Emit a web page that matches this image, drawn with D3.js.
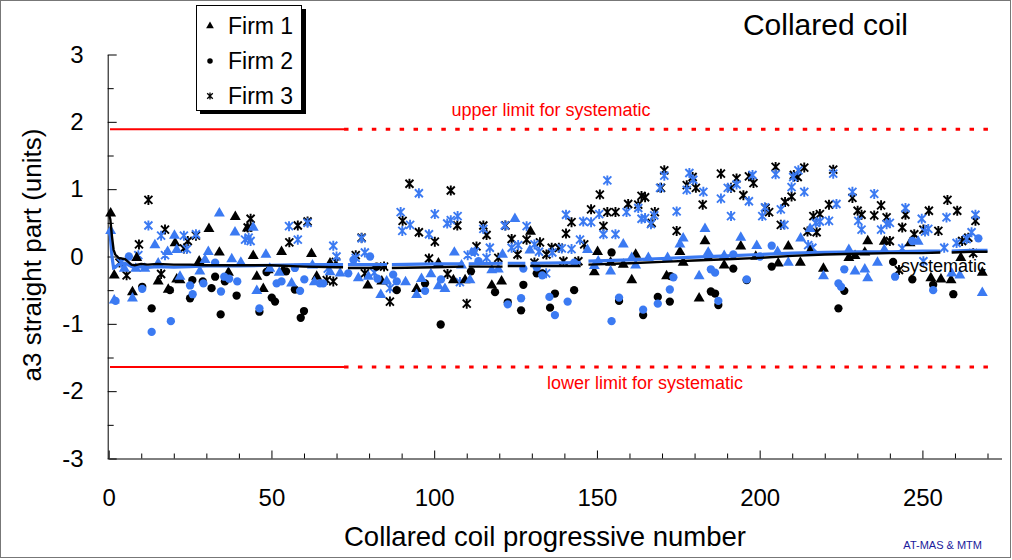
<!DOCTYPE html>
<html><head><meta charset="utf-8">
<script src="https://cdn.jsdelivr.net/npm/d3@7"></script>
<style>
html,body{margin:0;padding:0;background:#fff;}
svg{display:block;font-family:"Liberation Sans",Arial,sans-serif;}
</style></head>
<body><svg id="c" width="1012" height="560"></svg>
<script>
// ---------- data ----------
const xTicksMajor = [0, 50, 100, 150, 200, 250];
const yTicksMajor = [-3, -2, -1, 0, 1, 2, 3];
const legendLabels = ["Firm 1", "Firm 2", "Firm 3"];
const upperLimit = 1.89, lowerLimit = -1.64;
const limitSolidEnd = 72.3, limitStart = 0.4, limitEnd = 270.6;

const firm1Black = [[0.6,0.64],[1.7,-0.28],[7.3,-0.53],[8.6,-0.02],[15.2,-0.37],[18.3,-0.49],[20.4,0.2],[20.9,-0.34],[21.9,-0.35],[27.8,-0.07],[30.8,0.41],[34,0.06],[36.8,-0.24],[38.9,0.59],[42.6,0.42],[44.4,0.01],[45.5,-0.3],[47.5,-0.48],[49,-0.2],[53.1,0.07],[53.6,-0.2],[62.3,0.04],[63.9,-0.3],[68,-0.1],[79.6,-0.43],[83.9,-0.37],[94.6,-0.48],[101.3,-0.1],[105.9,-0.35],[109.5,-0.35],[117.7,-0.43],[120.7,-0.37],[129.6,0.37],[149.2,-0.23],[150.2,0.07],[154.2,-0.09],[158.1,-0.12],[160.7,-0.35],[161.9,0.03],[171.4,-0.29],[175.5,0.07],[176.5,-0.09],[181.4,-0.62],[183.2,0.23],[184.2,-0.02],[189.1,-0.13],[194.2,0.15],[198.8,0],[205.7,-0.1],[208.8,0.15],[212.5,-0.09],[215.5,0.08],[219.6,-0.18],[227.4,-0.02],[229.3,0.01],[232.3,0.06],[233.2,0.23],[238.3,0.22],[246.2,0.2],[252.6,-0.32],[255.7,-0.34],[258.8,-0.35],[261.8,-0.02],[268.4,-0.24]];
const firm1Blue = [[0.6,0.38],[1.7,-0.65],[4.8,-0.18],[7.3,-0.62],[8.3,-0.18],[11.1,-0.18],[14.2,0.17],[15.2,-0.1],[18.1,0.07],[20.2,0.31],[20.9,0.1],[21.9,-0.3],[28,-0.22],[29.6,-0.05],[30.6,0.07],[34,0.64],[37.8,-0.04],[38.8,0.36],[40.6,-0.09],[44.4,0.43],[45.5,-0.51],[48.3,0.03],[49.5,-0.18],[52.4,-0.24],[56.2,-0.4],[62.6,-0.13],[63.2,-0.38],[68,-0.23],[71.1,-0.25],[76.7,-0.32],[79.8,-0.3],[83.6,-0.57],[85.4,-0.37],[91.2,-0.38],[94.6,-0.57],[96.1,-0.33],[99,-0.26],[101.3,-0.44],[103.3,-0.48],[106.2,0.06],[108.4,-0.13],[111,-0.35],[117.7,-0.2],[119.7,-0.19],[121,0.03],[124.8,0.56],[129.4,0.09],[147.1,0.1],[149.2,-0.14],[150.4,-0.07],[154.2,-0.22],[158.1,0.18],[160.7,-0.02],[161.9,-0.13],[165.8,-0.02],[171.7,-0.02],[175.5,0.18],[176.5,0.27],[181.4,-0.29],[183.2,0.41],[184.2,0.06],[189.1,0.01],[194.2,0.28],[199.1,0.16],[205.5,0.07],[208.8,-0.09],[212.6,0.27],[215.5,0.41],[219.6,-0.29],[227.4,0.1],[229.3,-0.22],[232.3,-0.19],[233.2,-0.32],[236.2,-0.09],[238.3,0.1],[248.7,0.22],[259,-0.25],[261.5,-0.28],[268.4,-0.54]];
const firm2Black = [[10.3,-0.45],[13.2,-0.77],[18.8,-0.5],[25,-0.62],[25.7,-0.35],[28.9,-0.37],[31.6,-0.47],[32.7,-0.3],[34.4,-0.86],[35.7,-0.37],[39.3,-0.58],[46.3,-0.82],[48.5,-0.23],[50.1,-0.61],[51.1,-0.67],[54.5,-0.22],[57.2,-0.49],[59,-0.91],[60,-0.81],[82.3,-0.15],[88.5,-0.5],[97.2,-0.4],[102,-1.01],[111.3,-0.22],[118.7,-0.53],[122.6,-0.68],[126.7,-0.8],[127.4,-0.42],[131.5,-0.25],[133.2,-0.25],[135.6,-0.76],[137.1,-0.55],[143,-0.5],[154.5,0.06],[156.8,-0.66],[164.2,-0.87],[168.7,-0.6],[172.4,-0.67],[172.6,-0.29],[185,-0.52],[186.3,-0.55],[187.3,-0.72],[191.9,-0.18],[196,-0.35],[203.7,-0.15],[224.2,-0.77],[226,-0.51],[241,-0.08],[246.9,-0.34],[253.3,-0.42],[259.5,-0.56]];
const firm2Blue = [[2.1,-0.66],[6.2,0],[10.3,-0.48],[13.2,-1.12],[19.1,-0.96],[25,-0.43],[25.8,-0.56],[29.1,-0.4],[32.7,-0.09],[34.5,-0.52],[35.5,-0.3],[37,-0.33],[39.5,-0.37],[46.3,-0.77],[51.6,-0.4],[53.1,-0.37],[57.2,-0.17],[58.8,-0.51],[60.1,-0.34],[64.9,-0.4],[65.9,-0.4],[73.6,-0.25],[75.2,-0.05],[80.3,0],[82.6,-0.33],[87.4,-0.27],[88.5,-0.37],[97.2,-0.51],[102.1,-0.34],[112,0.07],[113.6,-0.07],[122.6,-0.71],[126.7,-0.62],[127.4,-0.18],[131.5,-0.16],[133.2,-0.28],[135.4,-0.6],[137.1,-0.87],[141,-0.67],[143,-0.09],[154.5,-0.96],[156.8,-0.61],[164.2,-0.79],[168.7,-0.7],[172.4,-0.49],[173.5,-0.31],[185,-0.19],[186.3,-0.24],[187.3,-0.66],[191.9,0.03],[196,-0.34],[200.1,0],[203.7,0.16],[224.2,-0.4],[225,-0.45],[226,-0.19],[241.6,-0.3],[246.9,0.23],[253.3,-0.5],[267.2,0.27]];
const firm3Black = [[3.3,-0.09],[5.5,-0.28],[9.3,0.18],[12.2,0.84],[16.1,-0.26],[17.3,0.4],[23.1,0.12],[24.3,0.23],[26.8,0.31],[42.7,0.43],[43.6,0.56],[55.5,0.21],[58.1,0.46],[61.1,0.52],[67,-0.35],[69,-0.37],[69.8,-0.08],[75.9,0.02],[77.7,0.28],[78.7,-0.25],[84.6,-0.15],[86.4,-0.67],[90.3,0.53],[92.4,1.08],[95.3,0.36],[98.4,-0.03],[100.2,0.22],[104.1,-0.26],[105.1,0.98],[107.1,0.46],[110,-0.7],[113,0.15],[115.1,0.46],[116.1,0.32],[119.7,-0.02],[121.9,0.46],[123.8,0.26],[125.6,0.03],[128.4,0.25],[130.8,-0.09],[132.5,0.21],[134.5,0.03],[136.1,0.13],[138.3,0.13],[139.7,-0.07],[140.5,0.34],[142.2,0.51],[144.3,-0.07],[146.1,0.18],[148.2,0.7],[150.9,0.92],[152,0.45],[153.2,0.66],[155.7,0.66],[159.6,0.78],[162.7,0.77],[163.7,0.9],[164.8,0.88],[166.8,0.5],[167.8,0.66],[169.7,1.02],[170.7,1.28],[174.5,0.38],[177.6,1.06],[179.4,1.18],[180.4,1.02],[182.5,0.77],[188.1,1.23],[191.2,1.02],[192.9,1.16],[195,0.91],[196.7,1.19],[198.1,1.09],[201.8,0.72],[202.9,0.66],[204.9,1.33],[206.5,0.47],[207.8,0.81],[209.8,0.89],[210.5,1.21],[211.7,1.18],[213.7,1.32],[214.7,0.37],[216.5,0.6],[217.5,0.36],[218.5,0.63],[221.3,0.77],[222.6,1.29],[228.5,0.87],[230.1,0.68],[231.3,0.62],[235.2,0.61],[237.3,0.76],[239,0.58],[240,0.23],[242.8,-0.2],[243.8,0.43],[244.8,0.62],[247.5,0.33],[250.3,0.4],[252,0.68],[254.9,0.38],[257.7,0.84],[260.7,0.68],[262.2,0.23],[264.1,0.28],[265.6,0.05],[266.3,0.53]];
const firm3Blue = [[3.8,-0.09],[9.1,0.02],[12.2,0.46],[16.1,0.31],[17.3,0.02],[23.1,0.31],[24,0.11],[26.8,0.33],[41.9,0.25],[43,0.28],[43.6,0.23],[55.4,0.45],[58.1,0.25],[61.1,0.5],[67.3,-0.18],[69,0.16],[70,0],[75.9,-0.02],[77.7,0.27],[78.7,0.06],[81.6,-0.24],[86.4,-0.47],[89.7,0.66],[90.2,0.38],[92.6,0.47],[95.3,0.94],[98.4,0.33],[100.2,0.63],[104,0.49],[105.1,0.54],[107.2,0.6],[107.9,-0.38],[110.3,0.02],[112.5,0.07],[115.1,0.41],[116.1,-0.02],[117.1,0.13],[121.7,0.46],[123.8,0.13],[125.8,0.17],[128.4,0.45],[130.8,0.18],[132.2,0.07],[134.4,-0.25],[136.3,0.06],[139.2,0.12],[140.5,0.62],[142.2,0.11],[144.8,0.25],[145.8,0.52],[148.2,0.51],[150.7,0.63],[152,0.33],[153.2,1.13],[155.7,0.33],[159.1,0.66],[162.7,0.72],[163.7,0.56],[164.8,0.57],[166.6,0.48],[167.6,0.61],[169.4,1.02],[170.7,1.2],[174.5,0.67],[177.6,0.99],[178.4,1.24],[179.6,1.14],[182.7,0.96],[188.1,0.86],[190.2,1.02],[191.2,0.6],[192.9,1.07],[196.7,0.82],[197.8,1.21],[200.8,0.6],[201.6,0.73],[204.9,1.22],[206.5,0.7],[207.6,0.47],[209.8,1.03],[210.3,1.18],[211.9,1.28],[213.7,0.96],[214.9,0.17],[216.2,0.13],[217.2,0.5],[218.5,0.52],[221.3,0.53],[222.6,1.23],[223.6,0.78],[228.5,0.96],[230.3,0.53],[231.3,0.4],[235.2,0.93],[237.3,0.4],[239,0.48],[240,0.5],[243.8,0.12],[244.8,0.72],[249.8,0.56],[250.3,-0.07],[250.8,0.37],[251.8,0.41],[256.7,0.13],[257.4,0.58],[260.5,0.2],[263.6,0.26],[265.1,0.36],[266.3,0.62]];

// systematic: [x, black, blue]; null = break in the line
const systematic = [[0,0.65,0.4],[0.5,0.55,0.3],[1,0.3,0.0],[1.5,0.1,-0.17],[2,0.03,-0.16],[3,-0.02,-0.12],[5,-0.04,-0.1],[7,-0.12,-0.15],[8,-0.13,-0.16],[10,-0.11,-0.15],[12,-0.12,-0.16],[15,-0.11,-0.15],[20,-0.12,-0.16],[25,-0.12,-0.15],[30,-0.13,-0.14],[40,-0.13,-0.14],[50,-0.13,-0.13],[60,-0.15,-0.12],[70,-0.16,-0.12],[72,-0.16,-0.12],[72.8,null,null],[73.5,-0.17,-0.12],[80,-0.17,-0.12],[85.5,-0.16,-0.12],[86.2,null,null],[87,-0.17,-0.12],[100,-0.16,-0.11],[109,-0.15,-0.11],[109.8,null,null],[110.6,-0.15,-0.11],[121,-0.15,-0.1],[121.8,null,null],[122.6,-0.14,-0.1],[128,-0.14,-0.1],[128.8,null,null],[129.6,-0.14,-0.1],[145,-0.14,-0.09],[146.2,null,null],[147.4,-0.12,-0.07],[160,-0.1,-0.05],[170,-0.08,-0.03],[180,-0.06,-0.01],[190,-0.04,0.01],[200,-0.02,0.03],[210,0.01,0.05],[220,0.03,0.06],[230,0.04,0.07],[240,0.05,0.07],[250,0.05,0.08],[255.5,0.06,0.08],[257,null,null],[259,0.06,0.08],[265,0.07,0.09],[270,0.07,0.09]];

// ---------- drawing ----------
const BLUE = "#3b7af2";
const FONT = "Liberation Sans, Arial, sans-serif";
const svg = d3.select("#c");
const x = d3.scaleLinear().domain([0, 274.3]).range([108.7, 1001.5]);
const y = d3.scaleLinear().domain([-3, 3]).range([458.5, 54.5]);

// frame
svg.append("rect").attr("x",0.5).attr("y",0.5).attr("width",1010).attr("height",557)
  .attr("fill","#fff").attr("stroke","#777").attr("stroke-width",1);

// axes
const yMinor = d3.range(-2.5, 3, 1);
svg.append("g").attr("transform",`translate(${x(0)-1},0)`)
  .call(d3.axisLeft(y).tickValues(yMinor).tickSize(-6).tickSizeOuter(0).tickFormat(""))
  .call(g=>g.select(".domain").remove());
const gy = svg.append("g").attr("transform",`translate(${x(0)-1},0)`)
  .call(d3.axisLeft(y).tickValues(yTicksMajor).tickSize(-9).tickSizeOuter(0).tickPadding(24).tickFormat(d=>String(d)));
gy.selectAll("text").attr("font-size",24).attr("font-family",FONT).attr("fill","#000");

const xMinor = d3.range(10, 275, 10).filter(v=>v%50!==0);
svg.append("g").attr("transform",`translate(0,${y(-3)})`)
  .call(d3.axisBottom(x).tickValues(xMinor).tickSize(-5).tickSizeOuter(0).tickFormat(""))
  .call(g=>g.select(".domain").remove());
const gx = svg.append("g").attr("transform",`translate(0,${y(-3)})`)
  .call(d3.axisBottom(x).tickValues(xTicksMajor).tickSize(-8).tickSizeOuter(0).tickPadding(30).tickFormat(d=>String(d)));
gx.selectAll("text").attr("font-size",24).attr("font-family",FONT).attr("fill","#000");
svg.selectAll(".tick line").attr("stroke","#000");
svg.selectAll(".domain").attr("stroke","#000");

// limit lines
const RED = "#ff0000";
[upperLimit, lowerLimit].forEach(v=>{
  svg.append("line").attr("x1",x(limitStart)).attr("x2",x(limitSolidEnd)).attr("y1",y(v)).attr("y2",y(v))
    .attr("stroke",RED).attr("stroke-width",2);
  svg.append("line").attr("x1",x(limitSolidEnd)).attr("x2",x(limitEnd)).attr("y1",y(v)).attr("y2",y(v))
    .attr("stroke",RED).attr("stroke-width",3).attr("stroke-dasharray","4.5,9.4");
});
svg.append("text").attr("x",551).attr("y",y(upperLimit)-13).attr("text-anchor","middle")
  .attr("font-size",18).attr("fill",RED).text("upper limit for systematic");
svg.append("text").attr("x",645).attr("y",y(lowerLimit)+22).attr("text-anchor","middle")
  .attr("font-size",18).attr("fill",RED).text("lower limit for systematic");

// markers
const tri = d3.symbol().type(d3.symbolTriangle).size(52)();
const star = r => `M${-r},${-r}L${r},${r}M${-r},${r}L${r},${-r}M0,${-r*1.25}L0,${r*1.25}`;
function drawSeries(data, kind, color){
  const g = svg.append("g");
  const sel = g.selectAll("path").data(data).enter().append("path")
    .attr("transform", d=>`translate(${x(d[0])},${y(d[1])})`);
  if(kind==="tri") sel.attr("d", tri).attr("fill", color);
  else if(kind==="dot") sel.attr("d", d3.symbol().type(d3.symbolCircle).size(54)()).attr("fill", color);
  else sel.attr("d", star(4)).attr("fill","none").attr("stroke", color).attr("stroke-width",1.9);
}
drawSeries(firm3Black,"star","#000");
drawSeries(firm3Blue,"star",BLUE);
drawSeries(firm2Black,"dot","#000");
drawSeries(firm1Black,"tri","#000");
drawSeries(firm2Blue,"dot",BLUE);
drawSeries(firm1Blue,"tri",BLUE);

// systematic lines
const lineB = d3.line().defined(d=>d[1]!==null).x(d=>x(d[0])).y(d=>y(d[1]));
const lineU = d3.line().defined(d=>d[2]!==null).x(d=>x(d[0])).y(d=>y(d[2]));
svg.append("path").attr("d", lineU(systematic)).attr("fill","none").attr("stroke",BLUE).attr("stroke-width",3.2);
svg.append("path").attr("d", lineB(systematic)).attr("fill","none").attr("stroke","#000").attr("stroke-width",2.4);
svg.append("text").attr("x",901).attr("y",272).attr("font-size",18).attr("fill","#000").text("systematic");

// legend
svg.append("rect").attr("x",200).attr("y",9).attr("width",106).attr("height",105).attr("fill","#000");
svg.append("rect").attr("x",196.5).attr("y",5.5).attr("width",105).attr("height",105).attr("fill","#fff").attr("stroke","#000");
const legY = [26, 61, 96];
legendLabels.forEach((lab,i)=>{
  const g = svg.append("g").attr("transform",`translate(210,${legY[i]})`);
  if(i===0) g.append("path").attr("d", d3.symbol().type(d3.symbolTriangle).size(26)()).attr("fill","#000");
  else if(i===1) g.append("path").attr("d", d3.symbol().type(d3.symbolCircle).size(24)()).attr("fill","#000");
  else g.append("path").attr("d", star(2.8)).attr("stroke","#000").attr("stroke-width",1.3).attr("fill","none");
  svg.append("text").attr("x",228).attr("y",legY[i]+8).attr("font-size",23).attr("fill","#000").text(lab);
});

// titles
svg.append("text").attr("x",908).attr("y",35).attr("text-anchor","end").attr("font-size",30).attr("fill","#000").text("Collared coil");
svg.append("text").attr("x",545).attr("y",546).attr("text-anchor","middle").attr("font-size",27.5).attr("fill","#000").text("Collared coil progressive number");
svg.append("text").attr("transform","translate(41,255) rotate(-90)").attr("text-anchor","middle").attr("font-size",26).attr("fill","#000").text("a3 straight part (units)");
svg.append("text").attr("x",982).attr("y",549).attr("text-anchor","end").attr("font-size",11).attr("fill","#1a1a9c").text("AT-MAS & MTM");
</script></body></html>
